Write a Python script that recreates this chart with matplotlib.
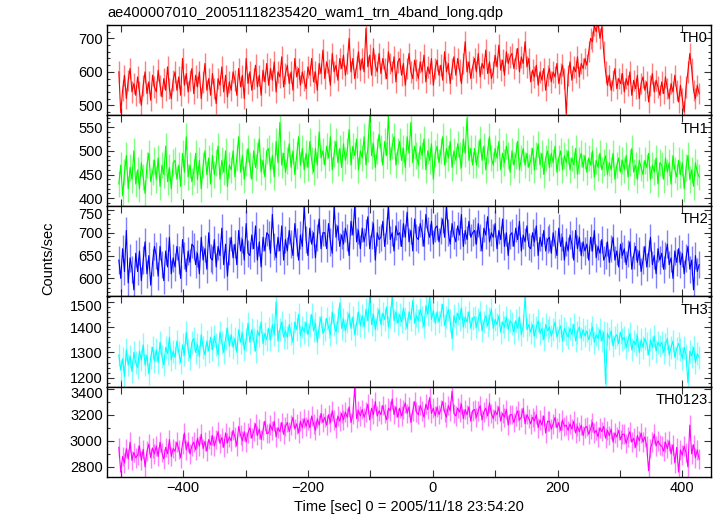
import numpy as np
import matplotlib
matplotlib.use("Agg")
import matplotlib.pyplot as plt
from matplotlib.ticker import MultipleLocator, FuncFormatter
from matplotlib.transforms import ScaledTranslation

# ---------------- data ----------------
TITLE = "ae400007010_20051118235420_wam1_trn_4band_long.qdp"
XLABEL = "Time [sec] 0 = 2005/11/18 23:54:20"
YLABEL = "Counts/sec"
T0 = -503          # first bin time [s]
DT = 3             # bin spacing [s]

PANEL_NAMES = ["TH0", "TH1", "TH2", "TH3", "TH0123"]

TH0 = [
600, 478, 545, 590, 520, 575, 610, 540, 565, 530,
585, 540, 500, 560, 600, 535, 570, 515, 590, 555,
540, 605, 560, 525, 580, 545, 615, 550, 520, 575,
600, 545, 585, 530, 640, 560, 595, 540, 575, 610,
535, 590, 555, 600, 520, 570, 625, 545, 580, 530,
595, 550, 505, 580, 560, 615, 540, 590, 525, 570,
545, 600, 575, 530, 610, 555, 590, 520, 640, 565,
600, 545, 580, 620, 555, 590, 530, 605, 570, 625,
560, 610, 575, 630, 540, 600, 585, 645, 555, 595,
620, 565, 600, 545, 640, 585, 610, 560, 600, 575,
550, 615, 590, 640, 570, 600, 545, 625, 595, 665,
580, 630, 605, 560, 655, 600, 620, 575, 640, 610,
650, 590, 625, 700, 600, 640, 580, 615, 660, 605,
640, 600, 730, 615, 650, 590, 670, 620, 600, 655,
595, 640, 610, 580, 660, 625, 600, 645, 570, 630,
640, 590, 625, 560, 610, 655, 600, 580, 635, 605,
580, 630, 600, 650, 570, 615, 595, 640, 560, 610,
635, 590, 620, 575, 660, 600, 625, 565, 610, 645,
590, 640, 605, 565, 625, 690, 600, 630, 580, 615,
640, 600, 655, 585, 625, 610, 665, 595, 630, 580,
600, 650, 615, 680, 605, 635, 590, 660, 625, 645,
655, 610, 640, 670, 600, 645, 625, 690, 615, 640,
570, 605, 585, 620, 560, 600, 575, 610, 545, 590,
610, 570, 600, 585, 625, 565, 595, 620, 580, 475,
590, 630, 575, 615, 600, 645, 585, 625, 610, 640,
620, 660, 700, 690, 740, 720, 750, 700, 735, 660,
600, 560, 590, 545, 575, 610, 550, 580, 565, 595,
540, 580, 560, 600, 530, 575, 550, 590, 520, 565,
585, 545, 570, 510, 560, 595, 540, 575, 555, 530,
570, 535, 585, 550, 520, 565, 540, 590, 545, 510,
560, 520, 480, 555, 600, 655, 610, 545, 520, 560,
535]

TH1 = [
430, 470, 405, 455, 490, 420, 465, 440, 500, 430,
460, 420, 475, 445, 410, 470, 495, 435, 455, 480,
440, 485, 425, 470, 450, 510, 435, 465, 420, 475,
480, 440, 470, 425, 495, 455, 530, 445, 470, 435,
455, 495, 440, 480, 420, 470, 500, 450, 485, 430,
490, 450, 475, 510, 440, 480, 455, 500, 425, 470,
460, 500, 445, 485, 530, 455, 490, 440, 475, 505,
470, 440, 500, 465, 490, 525, 455, 480, 445, 500,
505, 460, 490, 445, 520, 475, 560, 470, 495, 455,
480, 515, 465, 500, 450, 490, 530, 470, 505, 460,
495, 465, 520, 480, 455, 505, 470, 540, 485, 500,
470, 510, 485, 530, 460, 495, 520, 475, 505, 465,
515, 480, 500, 545, 470, 510, 490, 525, 460, 500,
485, 530, 470, 505, 575, 490, 515, 465, 500, 535,
505, 470, 520, 490, 575, 480, 510, 530, 470, 500,
520, 480, 505, 465, 530, 495, 560, 475, 510, 490,
470, 510, 490, 525, 460, 500, 480, 515, 440, 495,
510, 475, 500, 530, 470, 505, 485, 520, 465, 500,
480, 515, 490, 465, 525, 495, 570, 480, 505, 470,
505, 470, 495, 525, 480, 510, 460, 500, 530, 485,
470, 505, 485, 520, 460, 495, 475, 510, 490, 455,
500, 470, 490, 520, 460, 485, 505, 470, 495, 465,
480, 505, 460, 490, 515, 470, 495, 450, 485, 500,
465, 495, 475, 510, 455, 485, 500, 460, 490, 475,
500, 460, 485, 470, 505, 450, 480, 495, 465, 490,
455, 485, 470, 500, 445, 480, 465, 495, 460, 475,
490, 450, 475, 460, 495, 440, 470, 485, 455, 480,
460, 490, 445, 475, 505, 455, 470, 440, 480, 465,
450, 480, 465, 495, 440, 470, 455, 485, 430, 475,
470, 440, 485, 455, 475, 430, 490, 460, 445, 480,
450, 475, 420, 465, 490, 440, 460, 425, 475, 455,
445]

TH2 = [
640, 600, 665, 615, 705, 590, 645, 620, 575, 655,
615, 660, 595, 640, 680, 610, 650, 585, 635, 670,
650, 605, 670, 630, 595, 660, 625, 690, 610, 645,
625, 670, 640, 600, 685, 650, 615, 660, 635, 675,
670, 630, 655, 610, 690, 640, 665, 620, 700, 645,
640, 685, 625, 670, 650, 710, 630, 675, 605, 660,
690, 645, 675, 630, 705, 660, 685, 640, 720, 655,
650, 695, 665, 715, 640, 680, 625, 690, 660, 700,
695, 655, 740, 670, 645, 690, 660, 715, 640, 685,
660, 705, 675, 650, 720, 680, 640, 695, 670, 760,
685, 650, 710, 675, 700, 645, 690, 730, 665, 700,
700, 665, 720, 680, 655, 760, 690, 715, 670, 695,
675, 710, 690, 650, 725, 695, 760, 680, 705, 665,
710, 680, 700, 735, 665, 695, 720, 640, 700, 685,
690, 725, 670, 705, 760, 685, 700, 660, 715, 695,
700, 670, 720, 690, 745, 680, 705, 660, 730, 690,
685, 720, 700, 670, 740, 705, 690, 725, 675, 710,
715, 680, 705, 730, 690, 760, 700, 675, 720, 695,
680, 715, 695, 740, 670, 705, 685, 725, 690, 700,
705, 675, 720, 690, 660, 710, 695, 735, 680, 700,
690, 720, 665, 705, 685, 730, 670, 700, 650, 695,
700, 670, 710, 685, 725, 660, 695, 680, 715, 670,
665, 700, 680, 715, 650, 690, 670, 705, 660, 685,
690, 655, 700, 675, 650, 710, 670, 690, 640, 680,
660, 695, 675, 640, 705, 665, 690, 650, 680, 660,
675, 640, 690, 660, 705, 645, 670, 655, 685, 640,
650, 680, 635, 665, 690, 640, 660, 625, 675, 650,
665, 630, 655, 680, 620, 650, 670, 635, 660, 615,
640, 670, 625, 655, 690, 630, 650, 610, 665, 640,
655, 620, 650, 675, 630, 645, 600, 660, 635, 665,
630, 655, 610, 645, 670, 620, 640, 575, 650, 615,
630]

TH3 = [
1290, 1230, 1275, 1205, 1310, 1250, 1285, 1225, 1300, 1260,
1240, 1305, 1270, 1330, 1250, 1290, 1215, 1280, 1320, 1265,
1310, 1260, 1340, 1285, 1250, 1320, 1295, 1360, 1270, 1305,
1280, 1345, 1300, 1260, 1330, 1290, 1380, 1310, 1275, 1340,
1355, 1300, 1330, 1285, 1370, 1320, 1290, 1345, 1305, 1360,
1310, 1365, 1330, 1290, 1380, 1340, 1300, 1355, 1395, 1325,
1370, 1320, 1355, 1300, 1390, 1340, 1375, 1310, 1350, 1415,
1340, 1390, 1350, 1305, 1385, 1365, 1420, 1335, 1375, 1350,
1395, 1350, 1410, 1370, 1500, 1345, 1390, 1420, 1360, 1385,
1360, 1410, 1375, 1340, 1420, 1390, 1450, 1365, 1400, 1380,
1420, 1370, 1405, 1450, 1385, 1415, 1340, 1400, 1440, 1375,
1390, 1435, 1400, 1370, 1460, 1410, 1380, 1425, 1495, 1395,
1430, 1385, 1420, 1455, 1395, 1440, 1370, 1415, 1460, 1405,
1445, 1400, 1470, 1425, 1520, 1410, 1450, 1390, 1435, 1470,
1410, 1455, 1430, 1480, 1400, 1440, 1520, 1425, 1460, 1415,
1450, 1420, 1475, 1435, 1395, 1460, 1430, 1505, 1415, 1445,
1425, 1470, 1440, 1400, 1485, 1450, 1520, 1430, 1465, 1415,
1460, 1420, 1450, 1490, 1405, 1440, 1470, 1425, 1355, 1445,
1415, 1455, 1430, 1475, 1400, 1440, 1420, 1460, 1395, 1435,
1440, 1400, 1430, 1460, 1385, 1420, 1445, 1405, 1435, 1470,
1395, 1430, 1410, 1445, 1380, 1420, 1400, 1440, 1390, 1425,
1415, 1380, 1425, 1395, 1440, 1370, 1405, 1520, 1390, 1410,
1380, 1410, 1365, 1400, 1425, 1375, 1395, 1350, 1410, 1385,
1400, 1365, 1390, 1420, 1360, 1385, 1405, 1345, 1395, 1375,
1360, 1395, 1370, 1410, 1345, 1380, 1400, 1355, 1390, 1365,
1385, 1350, 1375, 1400, 1340, 1370, 1355, 1390, 1345, 1380,
1175, 1375, 1355, 1385, 1325, 1360, 1370, 1335, 1380, 1350,
1360, 1320, 1350, 1375, 1310, 1345, 1330, 1365, 1300, 1350,
1320, 1355, 1335, 1290, 1350, 1320, 1365, 1305, 1340, 1325,
1340, 1300, 1330, 1355, 1290, 1320, 1345, 1280, 1315, 1335,
1310, 1275, 1320, 1290, 1180, 1305, 1285, 1320, 1260, 1295,
1280]

TH0123 = [
2950, 2760, 2880, 2830, 2940, 2860, 2990, 2850, 2910, 2870,
2890, 2960, 2850, 2935, 2800, 2920, 2975, 2870, 2945, 2900,
2960, 2880, 2990, 2910, 2860, 2950, 2900, 3010, 2880, 2940,
2920, 2990, 2935, 2870, 2975, 3060, 2930, 2990, 2900, 2960,
2990, 2930, 3020, 2960, 3050, 2940, 2995, 2920, 3010, 2970,
3040, 2960, 3010, 3070, 2980, 3025, 2950, 3060, 2985, 3030,
3000, 3080, 3030, 2960, 3110, 3045, 3000, 3070, 2990, 3060,
3100, 3020, 3070, 3130, 3040, 3090, 3010, 3080, 3150, 3055,
3060, 3120, 3080, 3150, 3030, 3100, 3070, 3140, 3050, 3110,
3140, 3070, 3120, 3180, 3090, 3130, 3060, 3150, 3100, 3170,
3110, 3160, 3100, 3190, 3130, 3080, 3170, 3120, 3210, 3140,
3180, 3120, 3200, 3140, 3230, 3160, 3100, 3190, 3150, 3210,
3160, 3220, 3180, 3260, 3140, 3200, 3410, 3170, 3230, 3190,
3240, 3180, 3220, 3280, 3160, 3250, 3200, 3300, 3190, 3230,
3200, 3270, 3210, 3160, 3250, 3230, 3320, 3200, 3260, 3180,
3250, 3190, 3240, 3290, 3210, 3260, 3140, 3230, 3300, 3220,
3200, 3270, 3230, 3180, 3280, 3240, 3330, 3210, 3250, 3190,
3260, 3200, 3240, 3300, 3220, 3180, 3270, 3230, 3380, 3210,
3190, 3250, 3220, 3280, 3170, 3240, 3200, 3260, 3150, 3230,
3240, 3180, 3230, 3270, 3160, 3220, 3250, 3190, 3290, 3210,
3170, 3230, 3200, 3260, 3150, 3210, 3180, 3240, 3120, 3200,
3200, 3140, 3190, 3230, 3160, 3180, 3250, 3130, 3200, 3170,
3130, 3180, 3150, 3200, 3100, 3160, 3120, 3190, 3060, 3150,
3150, 3090, 3130, 3180, 3100, 3140, 3080, 3160, 3110, 3120,
3080, 3130, 3090, 3150, 3060, 3110, 3070, 3120, 3040, 3100,
3110, 3050, 3090, 3140, 3060, 3080, 3030, 3100, 3070, 3110,
3020, 3080, 3040, 3090, 2990, 3060, 3030, 3080, 3010, 3050,
3050, 2980, 3030, 3070, 2990, 3020, 2950, 3040, 3000, 3060,
2990, 3030, 2960, 2770, 2940, 2990, 3050, 2960, 3000, 2970,
2960, 2920, 2990, 2940, 3000, 2900, 2970, 2830, 2950, 2760,
2930, 2890, 2960, 2910, 2800, 3120, 2900, 2970, 2870, 2930,
2860]

ERRORS = [32, 28, 30, 45, 75]          # typical 1-sigma error per bin
YLIMS = [(470, 740), (384, 575), (561, 759), (1165, 1522), (2723, 3415)]
YMAJOR = [100, 50, 50, 100, 200]
YMINOR = [20, 10, 10, 20, 100]
COLORS = ["#ff0000", "#00ff00", "#0000ff", "#00ffff", "#ff00ff"]
XLIM = (-522, 446)

SERIES = [TH0, TH1, TH2, TH3, TH0123]

# ---------------- plot ----------------
plt.rcParams["font.family"] = ["Liberation Sans", "DejaVu Sans"]
fig = plt.figure(figsize=(7.17, 5.16), dpi=100)
fig.subplots_adjust(left=107/717, right=711/717, top=1-25/516,
                    bottom=1-477/516, hspace=0)
axes = fig.subplots(5, 1, sharex=True)

for i, ax in enumerate(axes):
    vals = np.array(SERIES[i], dtype=float)
    t = T0 + DT * np.arange(len(vals))
    ax.errorbar(t, vals, yerr=ERRORS[i], fmt="none", ecolor=COLORS[i],
                elinewidth=1.0, alpha=0.5, capsize=0)
    ax.plot(t, vals, color=COLORS[i], lw=0.8)
    ax.set_xlim(*XLIM)
    ax.set_ylim(*YLIMS[i])
    ax.yaxis.set_major_locator(MultipleLocator(YMAJOR[i]))
    ax.yaxis.set_minor_locator(MultipleLocator(YMINOR[i]))
    ax.xaxis.set_major_locator(MultipleLocator(100))
    ax.xaxis.set_major_formatter(
        FuncFormatter(lambda v, p: ("%d" % v).replace("-", "\u2212")
                      if abs(v) % 200 < 1e-6 else ""))
    ax.tick_params(which="both", direction="in", top=True, right=True,
                   labelsize=10.5, width=0.8, color="#333333")
    ax.tick_params(which="major", length=5, pad=3)
    ax.tick_params(which="minor", length=2.5)
    for s in ax.spines.values():
        s.set_linewidth(1.0)
    ax.text(0.995, 0.93, PANEL_NAMES[i], transform=ax.transAxes,
            ha="right", va="top", fontsize=10.5)
    if i < 4:
        ax.tick_params(labelbottom=False)

fig.text(107/717, 1-13/516, TITLE, ha="left", va="center", fontsize=10.5)
fig.text(409/717, 1-507/516, XLABEL, ha="center", va="center", fontsize=10.5)
fig.text(48/717, 0.5, YLABEL, ha="center", va="center", rotation=90,
         fontsize=10.5)

# nudge y tick labels that sit close to a panel edge so neighbours don't collide
fig.canvas.draw()
for ax in axes:
    lo, hi = ax.get_ylim()
    span = hi - lo
    for tick in ax.yaxis.get_major_ticks():
        v = tick.get_loc()
        lab = tick.label1
        if hi - v < 0.08 * span and v <= hi:
            lab.set_transform(lab.get_transform() +
                              ScaledTranslation(0, -2.5/72, fig.dpi_scale_trans))
        elif v - lo < 0.08 * span and v >= lo:
            lab.set_transform(lab.get_transform() +
                              ScaledTranslation(0, 2.5/72, fig.dpi_scale_trans))

fig.savefig("out.png", dpi=100)
